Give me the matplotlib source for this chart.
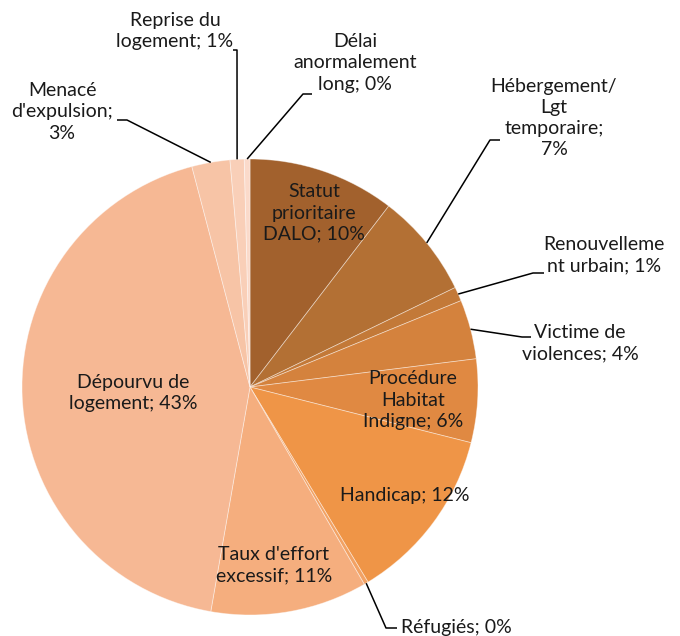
import matplotlib

matplotlib.use("Agg")
import matplotlib.pyplot as plt
import numpy as np

plt.rcParams["font.family"] = ["Lato", "DejaVu Sans"]

# data (clockwise from 12 o'clock)
categories = [
    "Statut prioritaire DALO",
    "Hébergement/Lgt temporaire",
    "Renouvellement urbain",
    "Victime de violences",
    "Procédure Habitat Indigne",
    "Handicap",
    "Réfugiés",
    "Taux d'effort excessif",
    "Dépourvu de logement",
    "Menacé d'expulsion",
    "Reprise du logement",
    "Délai anormalement long",
]
values = [10.4, 7.4, 1.0, 4.2, 5.9, 12.4, 0.3, 11.1, 43.1, 2.7, 1.0, 0.4]
label_templates = [
    "Statut\nprioritaire\nDALO; {}%",
    "Hébergement/\nLgt\ntemporaire;\n{}%",
    "Renouvelleme\nnt urbain; {}%",
    "Victime de\nviolences; {}%",
    "Procédure\nHabitat\nIndigne; {}%",
    "Handicap; {}%",
    "Réfugiés; {}%",
    "Taux d'effort\nexcessif; {}%",
    "Dépourvu de\nlogement; {}%",
    "Menacé\nd'expulsion;\n{}%",
    "Reprise du\nlogement; {}%",
    "Délai\nanormalement\nlong; {}%",
]
colors = [
    "#A2612D", "#B37034", "#C37938", "#D4823D", "#E08942", "#EF9547",
    "#F2A264", "#F5AE7E", "#F6B894", "#F7C4A6", "#F9CFB8", "#FBDACA",
]

W, H = 680, 636
CX, CY, R = 250, H - 387, 228

# label layout in pixel coords (y down); leader = (elbow, end) or None
layout = [
    ((314, 213), None),
    ((554, 118), ((490, 140), (500, 140))),
    ((604, 255), ((533, 273), (544, 273))),
    ((580, 343), ((522, 337), (531, 337))),
    ((413, 400), None),
    ((405, 496), None),
    ((456, 627), ((386, 628), (397, 628))),
    ((274, 565), None),
    ((133, 393), None),
    ((62, 112), ((127, 120), (117, 120))),
    ((175, 31), ((237, 50), (233, 50))),
    ((355, 63), ((303, 94), (312, 94))),
]

fig = plt.figure(figsize=(W / 100, H / 100), dpi=100)
ax = fig.add_axes([0, 0, 1, 1])
wedges, _ = ax.pie(
    values,
    colors=colors,
    startangle=90,
    counterclock=False,
    center=(CX, CY),
    radius=R,
    wedgeprops=dict(edgecolor=(1, 1, 1, 0.45), linewidth=0.6),
)
ax.set_xlim(0, W)
ax.set_ylim(0, H)
ax.set_aspect("equal")
ax.axis("off")

total = sum(values)
for wedge, v, tmpl, (pos, leader) in zip(wedges, values, label_templates, layout):
    pct = round(v / total * 100)
    tx, ty = pos[0], H - pos[1]
    ax.text(tx, ty, tmpl.format(pct), ha="center", va="center",
            fontsize=14, color="#1a1a1a", linespacing=1.3)
    if leader is not None:
        mid = np.deg2rad((wedge.theta1 + wedge.theta2) / 2)
        sx, sy = CX + R * np.cos(mid), CY + R * np.sin(mid)
        (ex, ey), (fx, fy) = leader
        ax.plot([sx, ex, fx], [sy, H - ey, H - fy], color="black", lw=1.1,
                solid_capstyle="butt", clip_on=False)

fig.savefig("out.png", dpi=100, facecolor="white")
